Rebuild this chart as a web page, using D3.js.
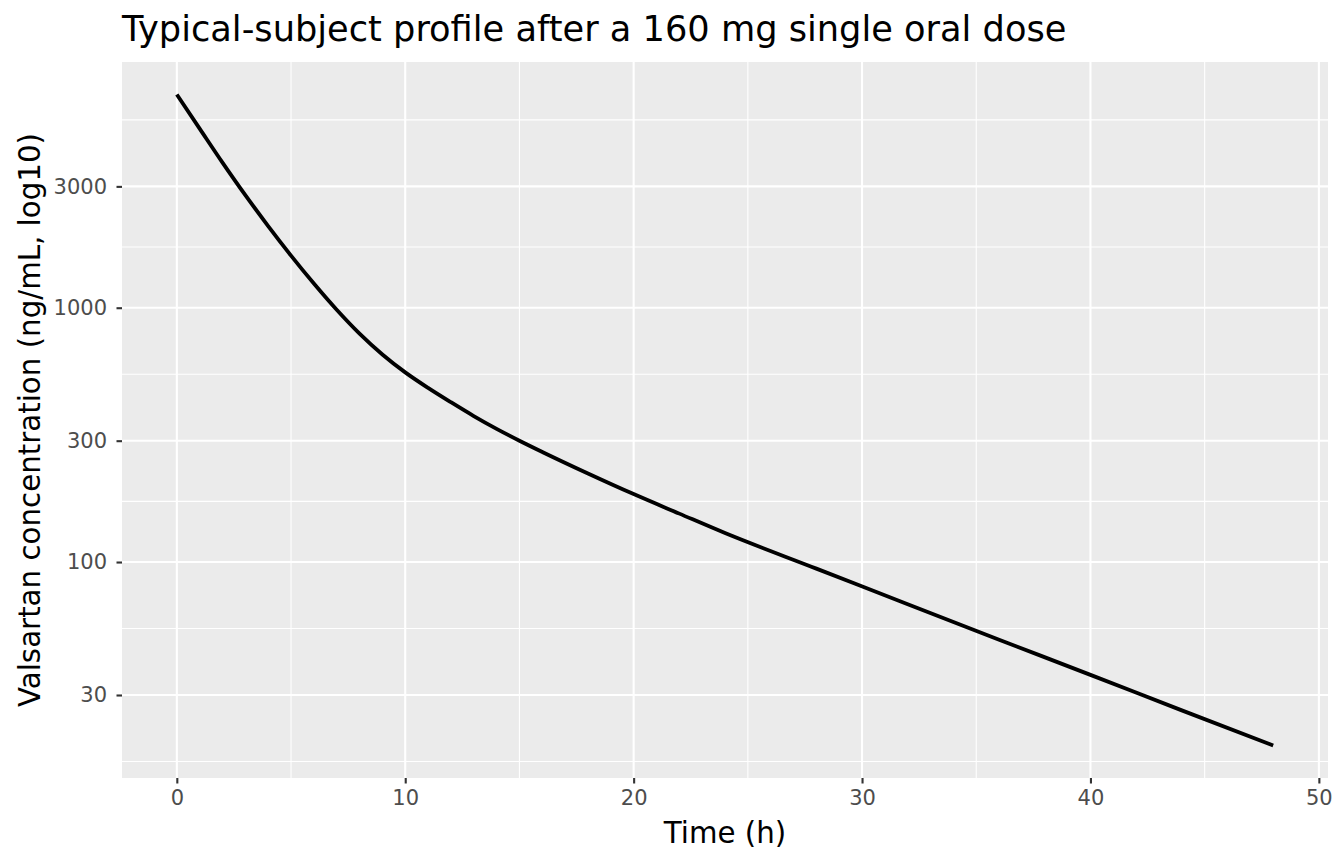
<!DOCTYPE html>
<html>
<head>
<meta charset="utf-8">
<script src="https://cdn.jsdelivr.net/npm/d3@7"></script>
<style>
  body { margin: 0; background: #fff; }
  text { font-family: "DejaVu Sans", sans-serif; }
</style>
</head>
<body>
<svg width="1344" height="864"></svg>
<script>
var svg = d3.select('svg')

// time after dose (h) and concentration (ng/mL)
var times = [0, 1, 2, 3, 4, 5, 6, 7, 8, 9, 10, 11, 12, 13, 14, 15, 16, 18, 20, 22, 24, 28, 32, 36, 40, 44, 48]
var conc = [6890, 5060, 3720, 2770, 2094, 1603, 1245, 982, 791, 655, 557, 484, 425, 375, 334, 300, 271, 223, 185, 155, 130, 94.2, 68.2, 49.5, 36.0, 26.1, 19.0]

var xTicks = [0, 10, 20, 30, 40, 50]
var yTicks = [30, 100, 300, 1000, 3000, 10000]
var yLabels = ['30', '100', '300', '1000', '3000', '10000']

var data = times.map((t, i) => ({ t: t, c: conc[i] }))

var panel = { left: 122, top: 62, right: 1328, bottom: 778 }

// ggplot-like 5% expansion, in log space for y
var tExt = d3.extent(times)
var tPad = (tExt[1] - tExt[0]) * 0.05
var x = d3.scaleLinear()
  .domain([tExt[0] - tPad, tExt[1] + tPad])
  .range([panel.left, panel.right])

var lExt = d3.extent(conc).map(Math.log10)
var lPad = (lExt[1] - lExt[0]) * 0.05
var y = d3.scaleLog()
  .domain([Math.pow(10, lExt[0] - lPad), Math.pow(10, lExt[1] + lPad)])
  .range([panel.bottom, panel.top])

var yDom = y.domain()
var inY = (v) => v >= yDom[0] && v <= yDom[1]
var xDom = x.domain()
var inX = (v) => v >= xDom[0] && v <= xDom[1]

// minor breaks: midpoints between majors (log space), one step extended below
var lb = yTicks.map(Math.log10)
lb.unshift(lb[0] - (lb[1] - lb[0]))
var yMinor = []
for (var i = 0; i < lb.length - 1; i++) yMinor.push(Math.pow(10, (lb[i] + lb[i + 1]) / 2))
yMinor = yMinor.filter(inY)

var xMinor = []
for (var j = 0; j < xTicks.length - 1; j++) xMinor.push((xTicks[j] + xTicks[j + 1]) / 2)
xMinor = xMinor.filter(inX)

svg.append('rect')
  .attr('x', panel.left)
  .attr('y', panel.top)
  .attr('width', panel.right - panel.left)
  .attr('height', panel.bottom - panel.top)
  .attr('fill', '#EBEBEB')

var grid = svg.append('g')

grid.selectAll('.ymin').data(yMinor).enter().append('line')
  .attr('x1', panel.left).attr('x2', panel.right)
  .attr('y1', (d) => y(d)).attr('y2', (d) => y(d))
  .attr('stroke', '#fff').attr('stroke-width', 1.1)

grid.selectAll('.xmin').data(xMinor).enter().append('line')
  .attr('y1', panel.top).attr('y2', panel.bottom)
  .attr('x1', (d) => x(d)).attr('x2', (d) => x(d))
  .attr('stroke', '#fff').attr('stroke-width', 1.1)

grid.selectAll('.ymaj').data(yTicks.filter(inY)).enter().append('line')
  .attr('x1', panel.left).attr('x2', panel.right)
  .attr('y1', (d) => y(d)).attr('y2', (d) => y(d))
  .attr('stroke', '#fff').attr('stroke-width', 2.1)

grid.selectAll('.xmaj').data(xTicks.filter(inX)).enter().append('line')
  .attr('y1', panel.top).attr('y2', panel.bottom)
  .attr('x1', (d) => x(d)).attr('x2', (d) => x(d))
  .attr('stroke', '#fff').attr('stroke-width', 2.1)

var line = d3.line()
  .x((d) => x(d.t))
  .y((d) => y(d.c))
  .curve(d3.curveMonotoneX)

svg.append('path')
  .datum(data)
  .attr('d', line)
  .attr('fill', 'none')
  .attr('stroke', '#000')
  .attr('stroke-width', 3.8)

// axes
var xAxis = d3.axisBottom(x)
  .tickValues(xTicks.filter(inX))
  .tickSize(5.5)
  .tickPadding(6.5)
  .tickFormat(d3.format('d'))

var gx = svg.append('g')
  .attr('transform', 'translate(0,' + panel.bottom + ')')
  .call(xAxis)
gx.select('.domain').remove()
gx.selectAll('.tick line').attr('stroke', '#333333').attr('stroke-width', 2.1)
gx.selectAll('.tick text')
  .attr('fill', '#4D4D4D')
  .style('font-size', '21px')
  .style('font-family', 'DejaVu Sans')

var yAxis = d3.axisLeft(y)
  .tickValues(yTicks.filter(inY))
  .tickSize(5.5)
  .tickPadding(9.5)
  .tickFormat((d) => yLabels[yTicks.indexOf(d)])

var gy = svg.append('g')
  .attr('transform', 'translate(' + panel.left + ',0)')
  .call(yAxis)
gy.select('.domain').remove()
gy.selectAll('.tick line').attr('stroke', '#333333').attr('stroke-width', 2.1)
gy.selectAll('.tick text')
  .attr('fill', '#4D4D4D')
  .style('font-size', '21px')
  .style('font-family', 'DejaVu Sans')

svg.append('text')
  .attr('x', (panel.left + panel.right) / 2)
  .attr('y', 843)
  .attr('text-anchor', 'middle')
  .style('font-size', '29.3px')
  .attr('fill', '#000')
  .text('Time (h)')

svg.append('text')
  .attr('transform', 'translate(40,' + (panel.top + panel.bottom) / 2 + ') rotate(-90)')
  .attr('text-anchor', 'middle')
  .style('font-size', '29.3px')
  .attr('fill', '#000')
  .text('Valsartan concentration (ng/mL, log10)')

svg.append('text')
  .attr('x', panel.left)
  .attr('y', 41)
  .style('font-size', '35.2px')
  .attr('fill', '#000')
  .text('Typical-subject profile after a 160 mg single oral dose')
</script>
</body>
</html>
